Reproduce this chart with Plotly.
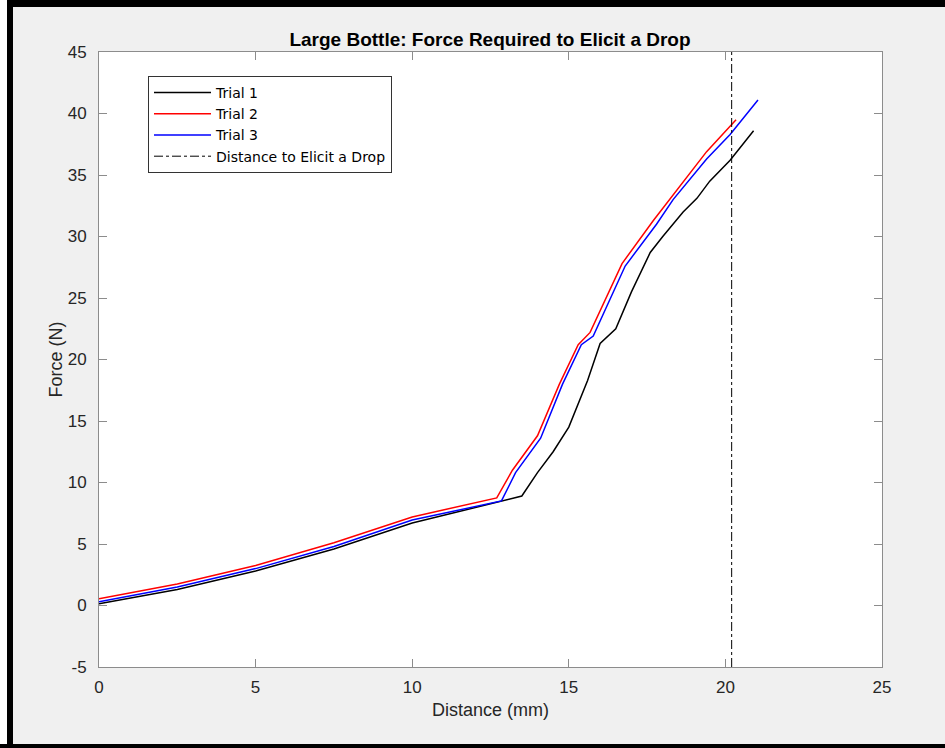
import plotly.graph_objects as go

# ---- data ----
trial1_x = [0, 2.5, 5, 7.5, 10, 12.6, 13.5, 14.0, 14.5, 15.0, 15.6, 16.0, 16.2, 16.5, 17.0, 17.6, 18.0, 18.65, 19.09, 19.5, 20.15, 20.9]
trial1_y = [0.15, 1.3, 2.8, 4.6, 6.7, 8.3, 8.9, 10.8, 12.5, 14.5, 18.3, 21.3, 21.8, 22.5, 25.5, 28.7, 30.0, 32.0, 33.1, 34.5, 36.2, 38.6]

trial2_x = [0, 2.5, 5, 7.5, 10, 12.7, 13.2, 14.0, 14.7, 15.3, 15.68, 16.0, 16.7, 17.7, 18.3, 19.4, 20.34]
trial2_y = [0.55, 1.75, 3.25, 5.1, 7.2, 8.75, 11.0, 13.8, 18.0, 21.2, 22.2, 24.0, 27.8, 31.3, 33.3, 36.9, 39.5]

trial3_x = [0, 2.5, 5, 7.5, 10, 12.85, 13.3, 14.1, 14.8, 15.4, 15.78, 16.1, 16.8, 17.8, 18.33, 19.4, 20.15, 21.04]
trial3_y = [0.3, 1.5, 3.0, 4.8, 6.95, 8.5, 10.8, 13.6, 18.0, 21.2, 21.9, 23.7, 27.6, 31.0, 33.0, 36.3, 38.3, 41.1]

drop_x = [20.2, 20.2]
drop_y = [-5, 45]

x_ticks = [0, 5, 10, 15, 20, 25]
y_ticks = [-5, 0, 5, 10, 15, 20, 25, 30, 35, 40, 45]

FONT = "Liberation Sans, Arial, Helvetica, sans-serif"
LEGFONT = "DejaVu Sans, Liberation Sans, sans-serif"
AX = "#8c8c8c"
TXT = "#262626"

fig = go.Figure()
fig.add_trace(go.Scatter(x=trial1_x, y=trial1_y, mode="lines", name="Trial 1",
                         line=dict(color="black", width=1.5)))
fig.add_trace(go.Scatter(x=trial2_x, y=trial2_y, mode="lines", name="Trial 2",
                         line=dict(color="#ff0000", width=1.5)))
fig.add_trace(go.Scatter(x=trial3_x, y=trial3_y, mode="lines", name="Trial 3",
                         line=dict(color="#0000ff", width=1.5)))
fig.add_trace(go.Scatter(x=drop_x, y=drop_y, mode="lines", name="Distance to Elicit a Drop",
                         line=dict(color="black", width=1, dash="dashdot")))

axis_common = dict(
    showgrid=False, zeroline=False, showline=True, linecolor=AX, linewidth=1,
    mirror="ticks", ticks="inside", ticklen=8, tickcolor=AX, tickwidth=1,
    tickfont=dict(family=FONT, size=17, color=TXT),
)

fig.update_layout(
    width=945, height=748,
    margin=dict(l=99, r=63, t=52, b=81),
    paper_bgcolor="#f0f0f0", plot_bgcolor="white",
    title=dict(text="<b>Large Bottle: Force Required to Elicit a Drop</b>",
               x=(490 - 99) / 783, xref="paper", xanchor="center", y=1 - 39 / 748, yanchor="middle",
               font=dict(family=FONT, size=19, color="black")),
    xaxis=dict(range=[0, 25], tickvals=x_ticks, ticktext=[str(v) for v in x_ticks],
               ticklabelstandoff=5,
               title=dict(text="Distance (mm)", font=dict(family=FONT, size=18, color=TXT), standoff=6),
               **axis_common),
    yaxis=dict(range=[-5, 45], tickvals=y_ticks, ticktext=[str(v) for v in y_ticks],
               ticklabelstandoff=8,
               title=dict(text="Force (N)", font=dict(family=FONT, size=18, color=TXT), standoff=0),
               **axis_common),
    legend=dict(x=(148 - 99) / 783, y=(667 - 76) / 615, xanchor="left", yanchor="top",
                bgcolor="white", bordercolor="#333333", borderwidth=1,
                font=dict(family=LEGFONT, size=14, color="black"),
                itemwidth=57, tracegroupgap=0),
    showlegend=True,
)

# screenshot frame (white strip + black bands)
W, L, T, H = 783.0, 99.0, 52.0, 615.0
def px(x):
    return (x - L) / W
def py(y):
    return (T + H - y) / H
frame = [
    (px(0), py(0), px(7), py(748), "white"),
    (px(7), py(0), px(13), py(748), "black"),
    (px(7), py(-1), px(946), py(7), "black"),
    (px(0), py(744), px(946), py(749), "black"),
]
for x0, y0, x1, y1, c in frame:
    fig.add_shape(type="rect", xref="paper", yref="paper", x0=x0, y0=y0, x1=x1, y1=y1,
                  fillcolor=c, line=dict(width=0), layer="above")

fig.write_html("out.html", config={"displayModeBar": False},
               post_script="document.body.style.margin='0';document.body.style.padding='0';")
